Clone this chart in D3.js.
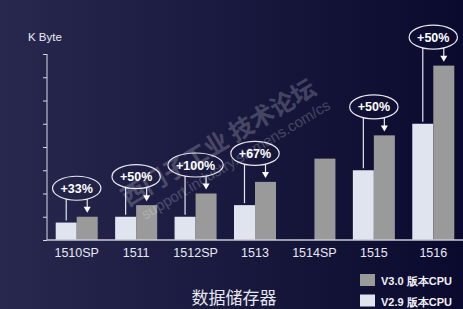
<!DOCTYPE html>
<html lang="zh">
<head>
<meta charset="UTF-8">
<title>数据储存器</title>
<script src="https://d3js.org/d3.v7.min.js"></script>
<style>
  html, body { margin: 0; padding: 0; overflow: hidden; }
  svg { display: block; font-family: "Liberation Sans", Arial, sans-serif; }
  .cjk { font-family: "Noto Sans CJK SC", sans-serif; }
</style>
</head>
<body>
<svg id="chart" width="463" height="309"></svg>
<script>
// 数据
const categories = ["1510SP", "1511", "1512SP", "1513", "1514SP", "1515", "1516"];
const v29 = [18, 24, 24, 36, null, 72, 120];   // V2.9 版本CPU
const v30 = [24, 36, 48, 60, 84, 108, 180];    // V3.0 版本CPU
const gains = ["+33%", "+50%", "+100%", "+67%", null, "+50%", "+50%"];
const yTicks = [0, 24, 48, 72, 96, 120, 144, 168, 192];
const seriesNames = ["V3.0 版本CPU", "V2.9 版本CPU"];
const seriesColors = ["#9a9a9a", "#dfe4ef"];

const W = 463, H = 309;
const svg = d3.select("#chart");

// 背景
const defs = svg.append("defs");
const grad = defs.append("linearGradient").attr("id", "bg").attr("x1", 0).attr("x2", 1).attr("y1", 0).attr("y2", 0);
grad.append("stop").attr("offset", "0%").attr("stop-color", "#28284f");
grad.append("stop").attr("offset", "100%").attr("stop-color", "#0a0a2e");
svg.append("rect").attr("width", W).attr("height", H).attr("fill", "url(#bg)");

const x = d3.scaleBand().domain(categories).range([47, 463]).paddingInner(0.293).paddingOuter(0.1465);
const bw = x.bandwidth() / 2;
const y = d3.scaleLinear().domain([0, 192]).range([240, 54]);

// y轴
const yAxis = svg.append("g").attr("transform", "translate(47,0)")
  .call(d3.axisLeft(y).tickValues(yTicks).tickSize(4).tickFormat(""));
yAxis.select(".domain").attr("stroke", "#d8d8e0").attr("d", "M0," + y(192) + "V" + y(0));
yAxis.selectAll(".tick line").attr("stroke", "#d8d8e0");

svg.append("text").attr("x", 28).attr("y", 41).attr("fill", "#ececf2")
  .attr("font-size", 11.5).text("K Byte");

// 柱子
const rows = categories.map((c, i) => ({ c, a: v29[i], b: v30[i], g: gains[i] }));
svg.selectAll(".b29").data(rows.filter(d => d.a != null)).join("rect")
  .attr("x", d => x(d.c)).attr("y", d => y(d.a))
  .attr("width", bw).attr("height", d => y(0) - y(d.a))
  .attr("fill", seriesColors[1]);
svg.selectAll(".b30").data(rows).join("rect")
  .attr("x", d => x(d.c) + bw).attr("y", d => y(d.b))
  .attr("width", bw).attr("height", d => y(0) - y(d.b))
  .attr("fill", seriesColors[0]);

// x轴
svg.append("line").attr("x1", 47).attr("x2", 463).attr("y1", y(0)).attr("y2", y(0))
  .attr("stroke", "#c8c8d0").attr("stroke-width", 1.5);
svg.selectAll(".xl").data(categories).join("text")
  .attr("x", d => x(d) + x.bandwidth() / 2).attr("y", 257)
  .attr("text-anchor", "middle").attr("fill", "#e8e8f0").attr("font-size", 12.5)
  .text(d => d);

// 增长标注
rows.filter(d => d.g).forEach(d => {
  const cx = x(d.c) + x.bandwidth() / 2;
  const cy = y(d.b) - 28.5;
  const g = svg.append("g");
  const t = g.append("text").attr("x", cx).attr("y", cy + 4.5).attr("text-anchor", "middle")
    .attr("fill", "#ffffff").attr("font-weight", "bold").attr("font-size", 12.5).text(d.g);
  const rx = t.node().getComputedTextLength() / 2 + 8, ry = 12;
  g.insert("ellipse", "text").attr("cx", cx).attr("cy", cy).attr("rx", rx).attr("ry", ry)
    .attr("fill", "none").attr("stroke", "#e6e6ee").attr("stroke-width", 1.2);
  const dx = bw / 2;
  const ey = cy + ry * Math.sqrt(Math.max(0, 1 - (dx / rx) * (dx / rx)));
  // 左线 (V2.9)
  g.append("line").attr("x1", cx - dx).attr("x2", cx - dx).attr("y1", ey).attr("y2", y(d.a) - 2)
    .attr("stroke", "#e6e6ee").attr("stroke-width", 1.2);
  // 右箭头 (V3.0)
  const tip = y(d.b) - 4;
  g.append("line").attr("x1", cx + dx).attr("x2", cx + dx).attr("y1", ey).attr("y2", tip - 4)
    .attr("stroke", "#e6e6ee").attr("stroke-width", 1.2);
  g.append("path").attr("d", `M${cx + dx - 3.5},${tip - 6}L${cx + dx + 3.5},${tip - 6}L${cx + dx},${tip}Z`)
    .attr("fill", "#ffffff");
});

// 图例
const leg = svg.append("g");
seriesNames.forEach((n, i) => {
  const ly = 274 + i * 20.5;
  leg.append("rect").attr("x", 360).attr("y", ly).attr("width", 15).attr("height", 12)
    .attr("fill", seriesColors[i]);
  leg.append("text").attr("x", 381).attr("y", ly + 11).attr("fill", "#f0f0f5")
    .attr("font-weight", "bold").attr("font-size", 11).text(n);
});

// 标题
svg.append("text").attr("class", "cjk").attr("x", 234).attr("y", 304).attr("text-anchor", "middle")
  .attr("fill", "#e6e6ee").attr("font-size", 17).text("数据储存器");

// 水印
const wm = svg.append("g").attr("transform", "translate(128,207) rotate(-31)")
  .attr("fill", "#ffffff").attr("opacity", 0.2);
wm.append("text").attr("class", "cjk").attr("font-size", 24).attr("font-weight", "bold")
  .text("西门子工业  技术论坛");
wm.append("text").attr("x", 8).attr("y", 20).attr("font-size", 15).text("support.industry.siemens.com/cs");
</script>
</body>
</html>
